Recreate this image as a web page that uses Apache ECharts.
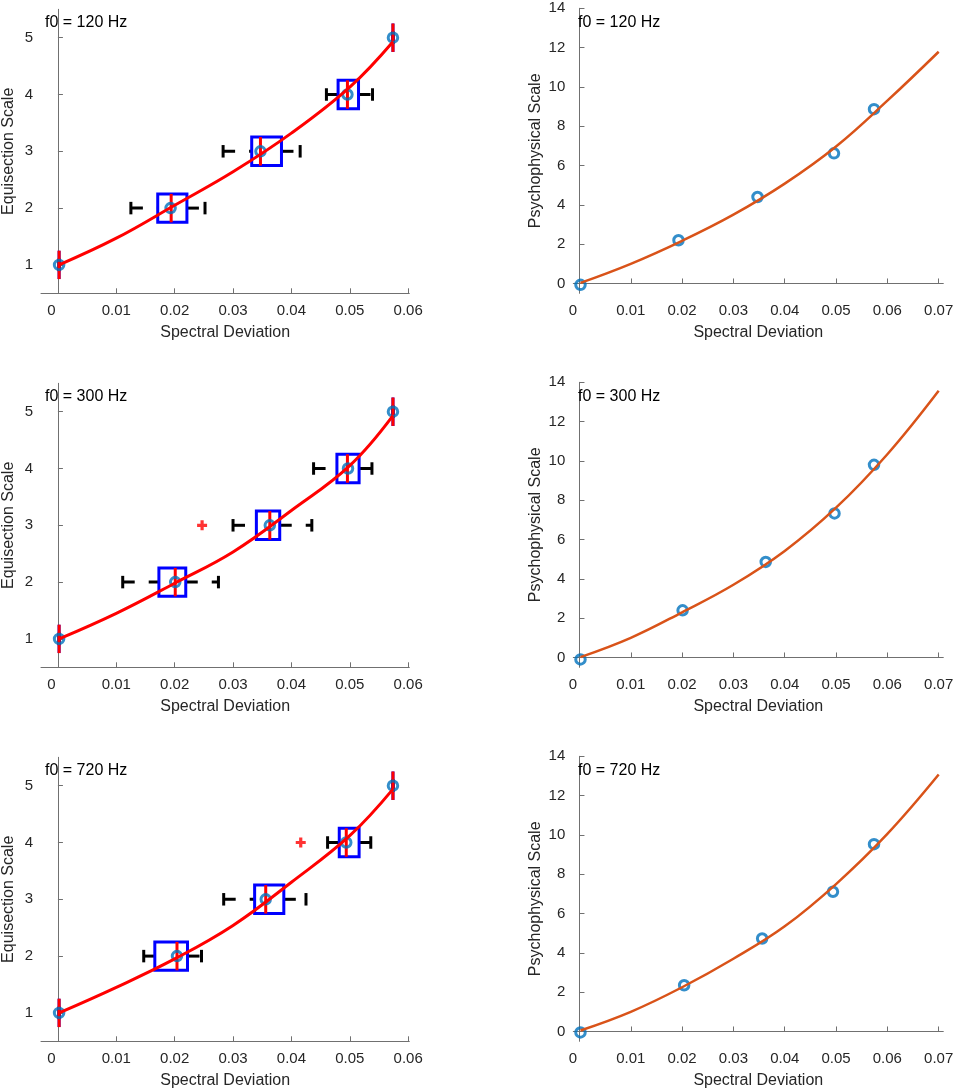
<!DOCTYPE html>
<html>
<head>
<meta charset="utf-8">
<script src="https://cdn.jsdelivr.net/npm/echarts/dist/echarts.min.js"></script>
<style>
html,body{margin:0;padding:0;background:#fff;}
#chart{width:957px;height:1092px;}
</style>
</head>
<body>
<div id="chart"></div>
<script>
// ---------------- data ----------------
const panelTitles = ['f0 = 120 Hz', 'f0 = 300 Hz', 'f0 = 720 Hz'];
const levels = [1, 2, 3, 4, 5];
const leftTicksX = [0, 0.01, 0.02, 0.03, 0.04, 0.05, 0.06];
const leftTicksY = [1, 2, 3, 4, 5];
const rightTicksX = [0, 0.01, 0.02, 0.03, 0.04, 0.05, 0.06, 0.07];
const rightTicksY = [0, 2, 4, 6, 8, 10, 12, 14];

// stimulus spectral deviation per level (circles)
const stim120 = [0.0002, 0.0193, 0.0347, 0.0496, 0.0574];
const stim300 = [0.0002, 0.0201, 0.0363, 0.0497, 0.0574];
const stim720 = [0.0002, 0.0204, 0.0356, 0.0494, 0.0574];

// boxplot stats per level: [whiskerLow, q1, median, q3, whiskerHigh]
const box120 = [
  [0.0002, 0.0002, 0.0002, 0.0002, 0.0002],
  [0.0125, 0.0171, 0.0194, 0.0221, 0.0252],
  [0.0283, 0.0332, 0.0347, 0.0383, 0.0415],
  [0.0460, 0.0480, 0.0496, 0.0515, 0.0539],
  [0.0574, 0.0574, 0.0574, 0.0574, 0.0574]
];
const box300 = [
  [0.0002, 0.0002, 0.0002, 0.0002, 0.0002],
  [0.0111, 0.0173, 0.0201, 0.0219, 0.0275],
  [0.0300, 0.0340, 0.0363, 0.0380, 0.0435],
  [0.0438, 0.0478, 0.0496, 0.0516, 0.0538],
  [0.0574, 0.0574, 0.0574, 0.0574, 0.0574]
];
const box720 = [
  [0.0002, 0.0002, 0.0002, 0.0002, 0.0002],
  [0.0147, 0.0166, 0.0204, 0.0222, 0.0246],
  [0.0284, 0.0337, 0.0356, 0.0387, 0.0425],
  [0.0462, 0.0482, 0.0494, 0.0516, 0.0536],
  [0.0574, 0.0574, 0.0574, 0.0574, 0.0574]
];

// outliers [x, level]
const outlier120 = [];
const outlier300 = [[0.0247, 3]];
const outlier720 = [[0.0416, 4]];

// fitted equisection curves [x, y]
const fitEq120 = [[0.0002, 1.0], [0.01, 1.47], [0.02, 2.05], [0.03, 2.64], [0.04, 3.32], [0.05, 4.13], [0.0574, 4.93]];
const fitEq300 = [[0.0002, 1.0], [0.01, 1.45], [0.02, 1.98], [0.03, 2.53], [0.04, 3.26], [0.05, 4.05], [0.0574, 4.93]];
const fitEq720 = [[0.0002, 1.0], [0.01, 1.45], [0.02, 1.95], [0.03, 2.54], [0.04, 3.30], [0.05, 4.12], [0.0574, 4.94]];

// psychophysical scale values (right panels)
const psy120 = [-0.07, 2.2, 4.4, 6.62, 8.87];
const psy300 = [-0.1, 2.4, 4.86, 7.33, 9.8];
const psy720 = [-0.05, 2.35, 4.73, 7.11, 9.53];

// fitted psychophysical curves [x, y]
const fitPsy120 = [[0.0002, 0.03], [0.01, 1.0], [0.02, 2.17], [0.03, 3.5], [0.04, 5.08], [0.05, 6.97], [0.06, 9.3], [0.07, 11.79]];
const fitPsy300 = [[0.0002, 0.02], [0.01, 1.0], [0.02, 2.3], [0.03, 3.7], [0.04, 5.42], [0.05, 7.62], [0.06, 10.34], [0.07, 13.57]];
const fitPsy720 = [[0.0002, 0.05], [0.01, 1.0], [0.02, 2.25], [0.03, 3.7], [0.04, 5.35], [0.05, 7.5], [0.06, 10.05], [0.07, 13.07]];

// ---------------- build ----------------
const rows = [
  {stim: stim120, box: box120, out: outlier120, fitEq: fitEq120, psy: psy120, fitPsy: fitPsy120},
  {stim: stim300, box: box300, out: outlier300, fitEq: fitEq300, psy: psy300, fitPsy: fitPsy300},
  {stim: stim720, box: box720, out: outlier720, fitEq: fitEq720, psy: psy720, fitPsy: fitPsy720}
];

const FONT = "'Liberation Sans', Arial, Helvetica, sans-serif";
const TXT = '#262626';
const AXC = '#707070';
const ROW_STEP = 374;
const L_LEFT = 40.7, L_W = 368.6, L_TOP = 9.3;
const R_LEFT = 573.3, R_W = 370, R_TOP = 8.3;
const BOTTOM = 293.3;
const BOX_H = 0.25, CAP_H = 0.11;

function fmt(v) { return v === 0 ? '{z|0}' : String(+v.toFixed(2)); }
const labelRich = {z: {padding: [0, 13, 0, 0], color: TXT, fontFamily: FONT, fontSize: 15}};

const grids = [], xAxes = [], yAxes = [], series = [], titles = [];

function axisCommon() {
  return {
    axisLine: {show: true, lineStyle: {color: AXC, width: 1}},
    splitLine: {show: false},
    nameTextStyle: {color: TXT, fontFamily: FONT, fontSize: 16},
  };
}
function ticks(vals) {
  return {show: true, inside: true, length: 5, customValues: vals, lineStyle: {color: AXC, width: 1}};
}

rows.forEach((r, i) => {
  const off = i * ROW_STEP;
  grids.push({left: L_LEFT, top: L_TOP + off, width: L_W, height: BOTTOM - L_TOP, containLabel: false});
  grids.push({left: R_LEFT, top: R_TOP + off, width: R_W, height: BOTTOM - R_TOP, containLabel: false});
  const gL = 2 * i, gR = 2 * i + 1;

  xAxes.push(Object.assign(axisCommon(), {
    gridIndex: gL, type: 'value', min: -0.0029, max: 0.0602,
    name: 'Spectral Deviation', nameLocation: 'middle', nameGap: 31,
    axisTick: ticks(leftTicksX),
    axisLabel: {customValues: leftTicksX, formatter: fmt, rich: labelRich, color: TXT, fontFamily: FONT, fontSize: 15, margin: 10}
  }));
  yAxes.push(Object.assign(axisCommon(), {
    gridIndex: gL, type: 'value', min: 0.5, max: 5.5,
    name: 'Equisection Scale', nameLocation: 'middle', nameGap: 24,
    axisTick: ticks(leftTicksY),
    axisLabel: {customValues: leftTicksY, color: TXT, fontFamily: FONT, fontSize: 15, margin: 8}
  }));
  xAxes.push(Object.assign(axisCommon(), {
    gridIndex: gR, type: 'value', min: -0.0012, max: 0.0709,
    name: 'Spectral Deviation', nameLocation: 'middle', nameGap: 31,
    axisTick: ticks(rightTicksX),
    axisLabel: {customValues: rightTicksX, formatter: fmt, rich: labelRich, color: TXT, fontFamily: FONT, fontSize: 15, margin: 10}
  }));
  yAxes.push(Object.assign(axisCommon(), {
    gridIndex: gR, type: 'value', min: -0.5, max: 14,
    name: 'Psychophysical Scale', nameLocation: 'middle', nameGap: 30,
    axisTick: ticks(rightTicksY),
    axisLabel: {customValues: rightTicksY, color: TXT, fontFamily: FONT, fontSize: 15, margin: 8}
  }));

  titles.push({text: panelTitles[i], left: 45, top: 15 + off, padding: 0,
    textStyle: {color: '#000', fontFamily: FONT, fontSize: 16, fontWeight: 'normal'}});
  titles.push({text: panelTitles[i], left: 578, top: 15 + off, padding: 0,
    textStyle: {color: '#000', fontFamily: FONT, fontSize: 16, fontWeight: 'normal'}});

  // boxplots (custom)
  series.push({
    type: 'custom', xAxisIndex: gL, yAxisIndex: gL, z: 2, silent: true,
    data: levels.map((lv, k) => [lv].concat(r.box[k])),
    encode: {x: [1, 2, 3, 4, 5], y: 0},
    renderItem: function (params, api) {
      const lv = api.value(0), wlo = api.value(1), q1 = api.value(2), med = api.value(3), q3 = api.value(4), whi = api.value(5);
      const P = (x, y) => api.coord([x, y]);
      const wl = P(wlo, lv), q1p = P(q1, lv), q3p = P(q3, lv), wh = P(whi, lv);
      const bTop = P(q1, lv + BOX_H), bBot = P(q3, lv - BOX_H);
      const capT = P(wlo, lv + CAP_H), capB = P(wlo, lv - CAP_H);
      const cap2T = P(whi, lv + CAP_H), cap2B = P(whi, lv - CAP_H);
      const mT = P(med, lv + BOX_H), mB = P(med, lv - BOX_H);
      const dash = {stroke: '#000', lineWidth: 3, lineDash: [12, 14], fill: null};
      const solidK = {stroke: '#000', lineWidth: 3, fill: null};
      return {type: 'group', children: [
        {type: 'line', shape: {x1: wl[0], y1: wl[1], x2: q1p[0], y2: q1p[1]}, style: dash},
        {type: 'line', shape: {x1: q3p[0], y1: q3p[1], x2: wh[0], y2: wh[1]}, style: dash},
        {type: 'line', shape: {x1: capT[0], y1: capT[1], x2: capB[0], y2: capB[1]}, style: solidK},
        {type: 'line', shape: {x1: cap2T[0], y1: cap2T[1], x2: cap2B[0], y2: cap2B[1]}, style: solidK},
        {type: 'rect', shape: {x: bTop[0], y: bTop[1], width: bBot[0] - bTop[0], height: bBot[1] - bTop[1]},
          style: {stroke: '#0000FF', lineWidth: 3, fill: null, lineJoin: 'miter'}},
        {type: 'line', shape: {x1: mT[0], y1: mT[1], x2: mB[0], y2: mB[1]}, style: {stroke: '#FF0000', lineWidth: 3}}
      ]};
    }
  });
  // outliers
  series.push({
    type: 'scatter', xAxisIndex: gL, yAxisIndex: gL, z: 3, silent: true,
    symbol: 'path://M3.4,0 L6.6,0 L6.6,3.4 L10,3.4 L10,6.6 L6.6,6.6 L6.6,10 L3.4,10 L3.4,6.6 L0,6.6 L0,3.4 L3.4,3.4 Z',
    symbolSize: 10, itemStyle: {color: '#FF0000'},
    data: r.out
  });
  // circles left
  series.push({
    type: 'scatter', xAxisIndex: gL, yAxisIndex: gL, z: 4, silent: true,
    symbol: 'circle', symbolSize: 9.5,
    itemStyle: {color: 'rgba(0,0,0,0)', borderColor: '#0072BD', borderWidth: 3},
    data: levels.map((lv, k) => [r.stim[k], lv])
  });
  // fit curve left
  series.push({
    type: 'line', xAxisIndex: gL, yAxisIndex: gL, z: 5, silent: true,
    showSymbol: false, smooth: 0.4,
    lineStyle: {color: '#FF0000', width: 3},
    data: r.fitEq
  });
  // circles right
  series.push({
    type: 'scatter', xAxisIndex: gR, yAxisIndex: gR, z: 4, silent: true,
    symbol: 'circle', symbolSize: 9.5,
    itemStyle: {color: 'rgba(0,0,0,0)', borderColor: '#0072BD', borderWidth: 3},
    data: levels.map((lv, k) => [r.stim[k], r.psy[k]])
  });
  // fit curve right
  series.push({
    type: 'line', xAxisIndex: gR, yAxisIndex: gR, z: 5, silent: true,
    showSymbol: false, smooth: 0.4,
    lineStyle: {color: '#D95319', width: 2.5},
    data: r.fitPsy
  });
});

const chart = echarts.init(document.getElementById('chart'), null, {renderer: 'canvas'});
chart.setOption({
  animation: false,
  backgroundColor: '#fff',
  title: titles,
  grid: grids,
  xAxis: xAxes,
  yAxis: yAxes,
  series: series
});
</script>
</body>
</html>
